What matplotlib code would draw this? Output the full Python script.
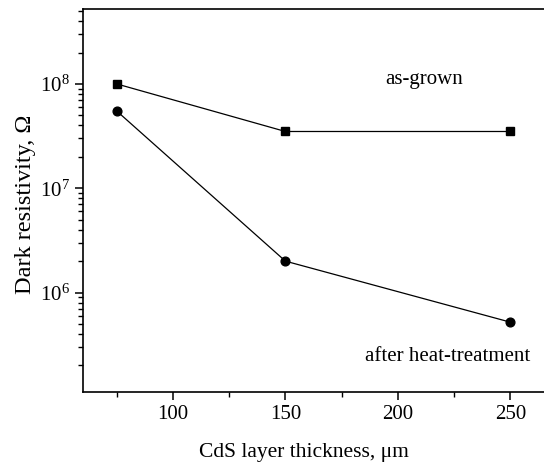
import matplotlib
matplotlib.use("Agg")
import matplotlib.pyplot as plt

plt.rcParams['font.family'] = ['Liberation Serif', 'DejaVu Serif']
plt.rcParams['mathtext.fontset'] = 'stix'

thickness = [75, 150, 250]
as_grown = [1.0e8, 3.5e7, 3.5e7]
after_heat = [5.5e7, 2.0e6, 5.2e5]

fig = plt.figure(figsize=(5.44, 4.63), dpi=100)
ax = fig.add_axes([0.1526, 0.154, 0.864, 0.826])

ax.plot(thickness, as_grown, '-s', color='black', lw=0.9, ms=5.5)
ax.plot(thickness, after_heat, '-o', color='black', lw=0.9, ms=6.3)

ax.set_yscale('log')
ax.set_xlim(60, 269)
ax.set_ylim(1.12e5, 5.2e8)
ax.set_xticks([100, 150, 200, 250])
ax.set_xticks([75, 125, 175, 225], minor=True)
ax.spines['right'].set_visible(False)
for s in ax.spines.values():
    s.set_linewidth(1.2)

ax.tick_params(axis='both', which='major', direction='out', length=6, width=1.1, labelsize=15)
ax.tick_params(axis='both', which='minor', direction='out', length=3.5, width=1.0)
ax.tick_params(axis='y', which='minor', labelleft=False)

ax.text(194.5, 1.1e8, 'as-grown', fontsize=15, va='center', ha='left')
ax.text(259, 2.45e5, 'after heat-treatment', fontsize=15, va='center', ha='right')

ax.set_xlabel('CdS layer thickness, \u03bcm', fontsize=15.5)
ax.xaxis.set_label_coords(0.47, -0.135)
ax.set_ylabel('Dark resistivity, \u03a9', fontsize=17.5)
ax.yaxis.set_label_coords(-0.1, 0.49)

fig.savefig('out.png', dpi=100)
